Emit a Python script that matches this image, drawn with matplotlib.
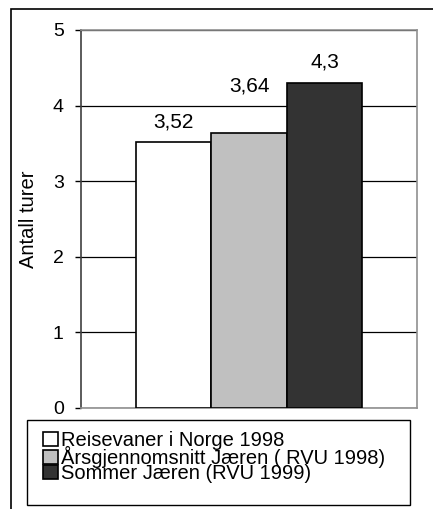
import matplotlib.pyplot as plt
from matplotlib.patches import Rectangle

plt.rcParams['font.family'] = ['Liberation Sans', 'DejaVu Sans']

# data
serier = ['Reisevaner i Norge 1998', 'Årsgjennomsnitt Jæren ( RVU 1998)', 'Sommer Jæren (RVU 1999)']
verdier = [3.52, 3.64, 4.3]
etiketter = ['3,52', '3,64', '4,3']
farger = ['white', '#c0c0c0', '#333333']

fig = plt.figure(figsize=(4.33, 5.09), dpi=100)
ax = fig.add_axes([81/433, 1-408/509, 336/433, 378/509])

# ytre ramme rundt hele diagrammet
fig.patches.append(Rectangle((11/433, -0.1), 2, 1.1-9/509, transform=fig.transFigure,
                             fill=False, edgecolor='black', linewidth=1.2))
# ramme rundt forklaringen
fig.patches.append(Rectangle((27/433, 1-505/509), 383/433, 85/509, transform=fig.transFigure,
                             fill=False, edgecolor='black', linewidth=1))

for i, (v, c, s) in enumerate(zip(verdier, farger, serier)):
    ax.bar(i, v, width=1.0, color=c, edgecolor='black', linewidth=1.2, label=s, zorder=3)

# dataetiketter (avstand i piksler over stolpen)
forskyv = [14, 41, 15]
for i, (v, t) in enumerate(zip(verdier, etiketter)):
    ax.annotate(t, (i, v), xytext=(0, forskyv[i] * 0.72), textcoords='offset points',
                ha='center', va='baseline', fontsize=15)

ax.set_xlim(-1.225, 3.225)
ax.set_ylim(0, 5)
ax.set_yticks([0, 1, 2, 3, 4, 5])
ax.set_xticks([])
ax.yaxis.grid(True, color='black', linewidth=0.9, zorder=0)
ax.set_axisbelow(True)
ax.tick_params(axis='y', length=4.5, width=1, labelsize=14, pad=8)
for sp in ['top', 'right', 'bottom']:
    ax.spines[sp].set_color('#909090')
    ax.spines[sp].set_linewidth(1.2)
ax.spines['left'].set_color('#404040')
ax.spines['left'].set_linewidth(1.2)
ax.set_ylabel('Antall turer', fontsize=14.5)
ax.yaxis.set_label_coords(-0.128, 0.5)

leg = fig.legend(loc='upper left', bbox_to_anchor=(43/433, 1-431/509),
                 fontsize=14.5, frameon=False,
                 handlelength=0.75, handleheight=0.65, handletextpad=0.15,
                 labelspacing=-0.2, borderpad=0, borderaxespad=0)

fig.savefig('out.png', dpi=100)
